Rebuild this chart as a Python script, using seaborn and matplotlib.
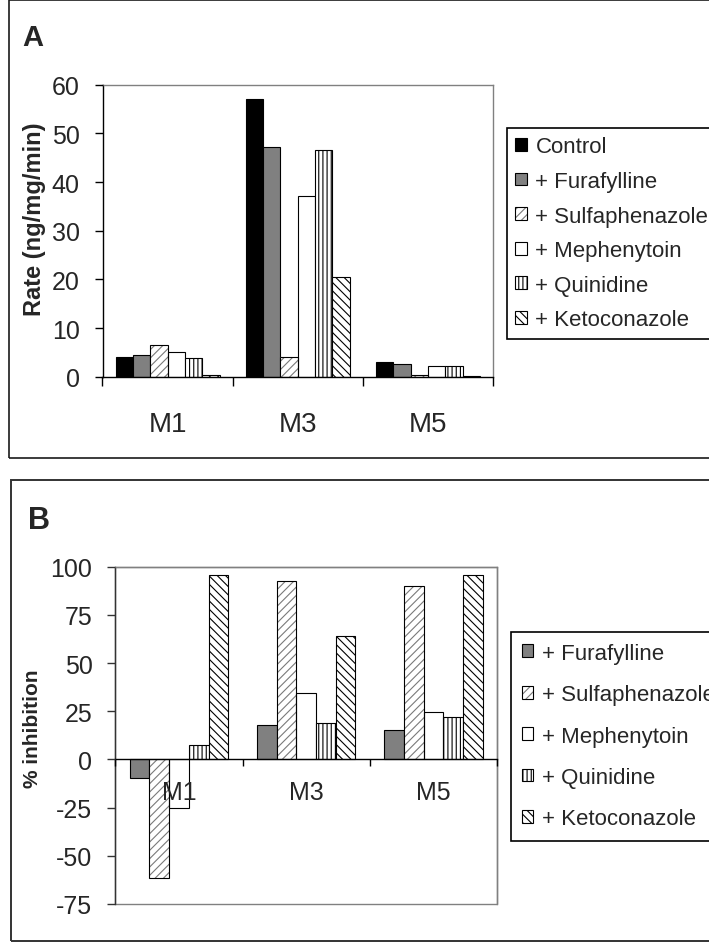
import numpy as np
import pandas as pd
import matplotlib
matplotlib.use("Agg")
import matplotlib.pyplot as plt
import seaborn as sns
from matplotlib.patches import Rectangle, Patch
from matplotlib.legend_handler import HandlerTuple

# ---------------- data ----------------
metabolites = ["M1", "M3", "M5"]
treatments_a = ["Control", "+ Furafylline", "+ Sulfaphenazole",
                "+ Mephenytoin", "+ Quinidine", "+ Ketoconazole"]
treatments_b = treatments_a[1:]

# Panel A: rate (ng/mg/min)
rate_control = [4.0, 57.1, 3.1]
rate_furafylline = [4.5, 47.2, 2.6]
rate_sulfaphenazole = [6.5, 4.0, 0.3]
rate_mephenytoin = [5.1, 37.2, 2.3]
rate_quinidine = [3.8, 46.5, 2.3]
rate_ketoconazole = [0.3, 20.5, 0.2]

# Panel B: % inhibition
inh_furafylline = [-9.6, 17.7, 15.3]
inh_sulfaphenazole = [-61.5, 92.6, 90.2]
inh_mephenytoin = [-25.1, 34.7, 24.4]
inh_quinidine = [7.7, 18.9, 21.9]
inh_ketoconazole = [95.7, 63.9, 95.7]

rate_ticks = [0, 10, 20, 30, 40, 50, 60]
inh_ticks = [-75, -50, -25, 0, 25, 50, 75, 100]

# ---------------- tables ----------------
rate_series = [rate_control, rate_furafylline, rate_sulfaphenazole,
               rate_mephenytoin, rate_quinidine, rate_ketoconazole]
inh_series = [inh_furafylline, inh_sulfaphenazole, inh_mephenytoin,
              inh_quinidine, inh_ketoconazole]

df_a = pd.DataFrame([(m, t, v) for t, vals in zip(treatments_a, rate_series)
                     for m, v in zip(metabolites, vals)],
                    columns=["metabolite", "treatment", "value"])
df_b = pd.DataFrame([(m, t, v) for t, vals in zip(treatments_b, inh_series)
                     for m, v in zip(metabolites, vals)],
                    columns=["metabolite", "treatment", "value"])

# ---------------- style ----------------
sns.set_style("white")
plt.rcParams["font.family"] = ["Liberation Sans", "DejaVu Sans"]
plt.rcParams["hatch.linewidth"] = 0.8

GRAY = "#808080"
HATCH_GRAY = "#7a7a7a"
fills = {"Control": "black", "+ Furafylline": GRAY, "+ Sulfaphenazole": "white",
         "+ Mephenytoin": "white", "+ Quinidine": "white", "+ Ketoconazole": "white"}
hatches = {"Control": None, "+ Furafylline": None, "+ Sulfaphenazole": "////",
           "+ Mephenytoin": None, "+ Quinidine": "||||", "+ Ketoconazole": "\\\\\\\\"}

W, H = 709, 945
fig = plt.figure(figsize=(W / 100, H / 100), dpi=100)


def fx(px):
    return px / W


def fy(py):
    return 1 - py / H


def style_bars(ax, names, lw):
    for name, cont in zip(names, ax.containers):
        h = hatches[name]
        for p in cont.patches:
            if name == "+ Sulfaphenazole":
                p.set_hatch(h)
                p.set_edgecolor(HATCH_GRAY)
                p.set_linewidth(0)
                ax.add_patch(Rectangle(p.get_xy(), p.get_width(), p.get_height(),
                                       fill=False, edgecolor="black", lw=lw,
                                       zorder=p.get_zorder() + 0.01))
            elif h:
                p.set_hatch(h)


def legend_handles(names, lw):
    hs = []
    for name in names:
        if name == "+ Sulfaphenazole":
            hs.append((Patch(facecolor="white", edgecolor=HATCH_GRAY, hatch=hatches[name], lw=0),
                       Patch(fill=False, edgecolor="black", lw=lw)))
        else:
            hs.append(Patch(facecolor=fills[name], edgecolor="black",
                            hatch=hatches[name], lw=lw))
    return hs


def style_axis(ax, ticks, ylim, ticksize, catsize, catpad, catlen, left_color):
    ax.set_axisbelow(False)
    ax.set_ylim(*ylim)
    ax.set_xlim(-0.5, 2.5)
    ax.set_yticks(ticks)
    ax.set_yticklabels([str(t) for t in ticks])
    ax.tick_params(axis="y", direction="out", length=6, width=1, pad=10.5,
                   labelsize=ticksize, left=True, color=left_color)
    ax.set_xticks([0, 1, 2])
    ax.set_xticklabels(metabolites)
    ax.tick_params(axis="x", which="major", length=0, pad=catpad, labelsize=catsize)
    ax.set_xticks([-0.5, 0.5, 1.5, 2.5], minor=True)
    ax.tick_params(axis="x", which="minor", direction="out", length=catlen,
                   width=1, bottom=True, color="black")
    ax.set_xlabel("")
    ax.set_ylabel("")
    for s in ["top", "right"]:
        ax.spines[s].set_color(GRAY)
        ax.spines[s].set_linewidth(1)
    ax.spines["left"].set_color(left_color)
    ax.spines["left"].set_linewidth(1)
    ax.spines["bottom"].set_color("black")
    ax.spines["bottom"].set_linewidth(1)
    ax.grid(False)


# ---------------- Panel A ----------------
ax_a = fig.add_axes([fx(102.5), fy(377.7), fx(493) - fx(102.5), fy(85.7) - fy(377.7)])
sns.barplot(data=df_a, x="metabolite", y="value", hue="treatment",
            order=metabolites, hue_order=treatments_a,
            palette=[fills[t] for t in treatments_a], saturation=1,
            edgecolor="black", linewidth=0.8, width=0.8, legend=False, ax=ax_a)
style_bars(ax_a, treatments_a, 0.8)
style_axis(ax_a, rate_ticks, (0, 60), 18, 20, 25, 6.5, "black")

leg_a = ax_a.legend(legend_handles(treatments_a, 0.8), treatments_a,
                    handler_map={tuple: HandlerTuple(ndivide=1, pad=0)},
                    loc="upper left", bbox_to_anchor=(fx(507), fy(129)),
                    bbox_transform=fig.transFigure, borderaxespad=0,
                    fontsize=16, frameon=True, fancybox=False, framealpha=1,
                    edgecolor="black", handlelength=0.5, handleheight=0.5,
                    handletextpad=0.4, labelspacing=0.61, borderpad=0.38)
leg_a.get_frame().set_linewidth(1.2)

fig.text(fx(35), fy(219), "Rate (ng/mg/min)", rotation=90, ha="center", va="center",
         fontsize=17, fontweight="bold")
fig.text(fx(22.5), fy(46), "A", ha="left", va="baseline", fontsize=21, fontweight="bold")

# ---------------- Panel B ----------------
ax_b = fig.add_axes([fx(115.4), fy(905), fx(497) - fx(115.4), fy(567.7) - fy(905)])
sns.barplot(data=df_b, x="metabolite", y="value", hue="treatment",
            order=metabolites, hue_order=treatments_b,
            palette=[fills[t] for t in treatments_b], saturation=1,
            edgecolor="black", linewidth=0.8, width=0.774, legend=False, ax=ax_b)
style_bars(ax_b, treatments_b, 0.8)
style_axis(ax_b, inh_ticks, (-75, 100), 18, 18, 15, 5, "#333333")
ax_b.spines["bottom"].set_position(("data", 0))
ax_b.add_patch(Rectangle((0, 0), 1, 1, transform=ax_b.transAxes, fill=False,
                         edgecolor=GRAY, lw=1, zorder=0.5, clip_on=False))

leg_b = ax_b.legend(legend_handles(treatments_b, 0.8), treatments_b,
                    handler_map={tuple: HandlerTuple(ndivide=1, pad=0)},
                    loc="upper left", bbox_to_anchor=(fx(511), fy(632.5)),
                    bbox_transform=fig.transFigure, borderaxespad=0,
                    fontsize=16, frameon=True, fancybox=False, framealpha=1,
                    edgecolor="black", handlelength=0.5, handleheight=0.5,
                    handletextpad=0.4, labelspacing=0.92, borderpad=0.5)
leg_b.get_frame().set_linewidth(1.2)

fig.text(fx(32), fy(729), "% inhibition", rotation=90, ha="center", va="center",
         fontsize=15, fontweight="bold")
fig.text(fx(28), fy(529), "B", ha="left", va="baseline", fontsize=22, fontweight="bold")

# ---------------- panel frames ----------------
fig.add_artist(Rectangle((fx(9), fy(459)), 1.0, fy(0.8) - fy(459),
                         transform=fig.transFigure, fill=False,
                         edgecolor="#1a1a1a", lw=1.2))
fig.add_artist(Rectangle((fx(11), fy(942)), 1.0, fy(480.7) - fy(942),
                         transform=fig.transFigure, fill=False,
                         edgecolor="#333333", lw=1.4))

fig.savefig("out.png", dpi=100, facecolor="white")
